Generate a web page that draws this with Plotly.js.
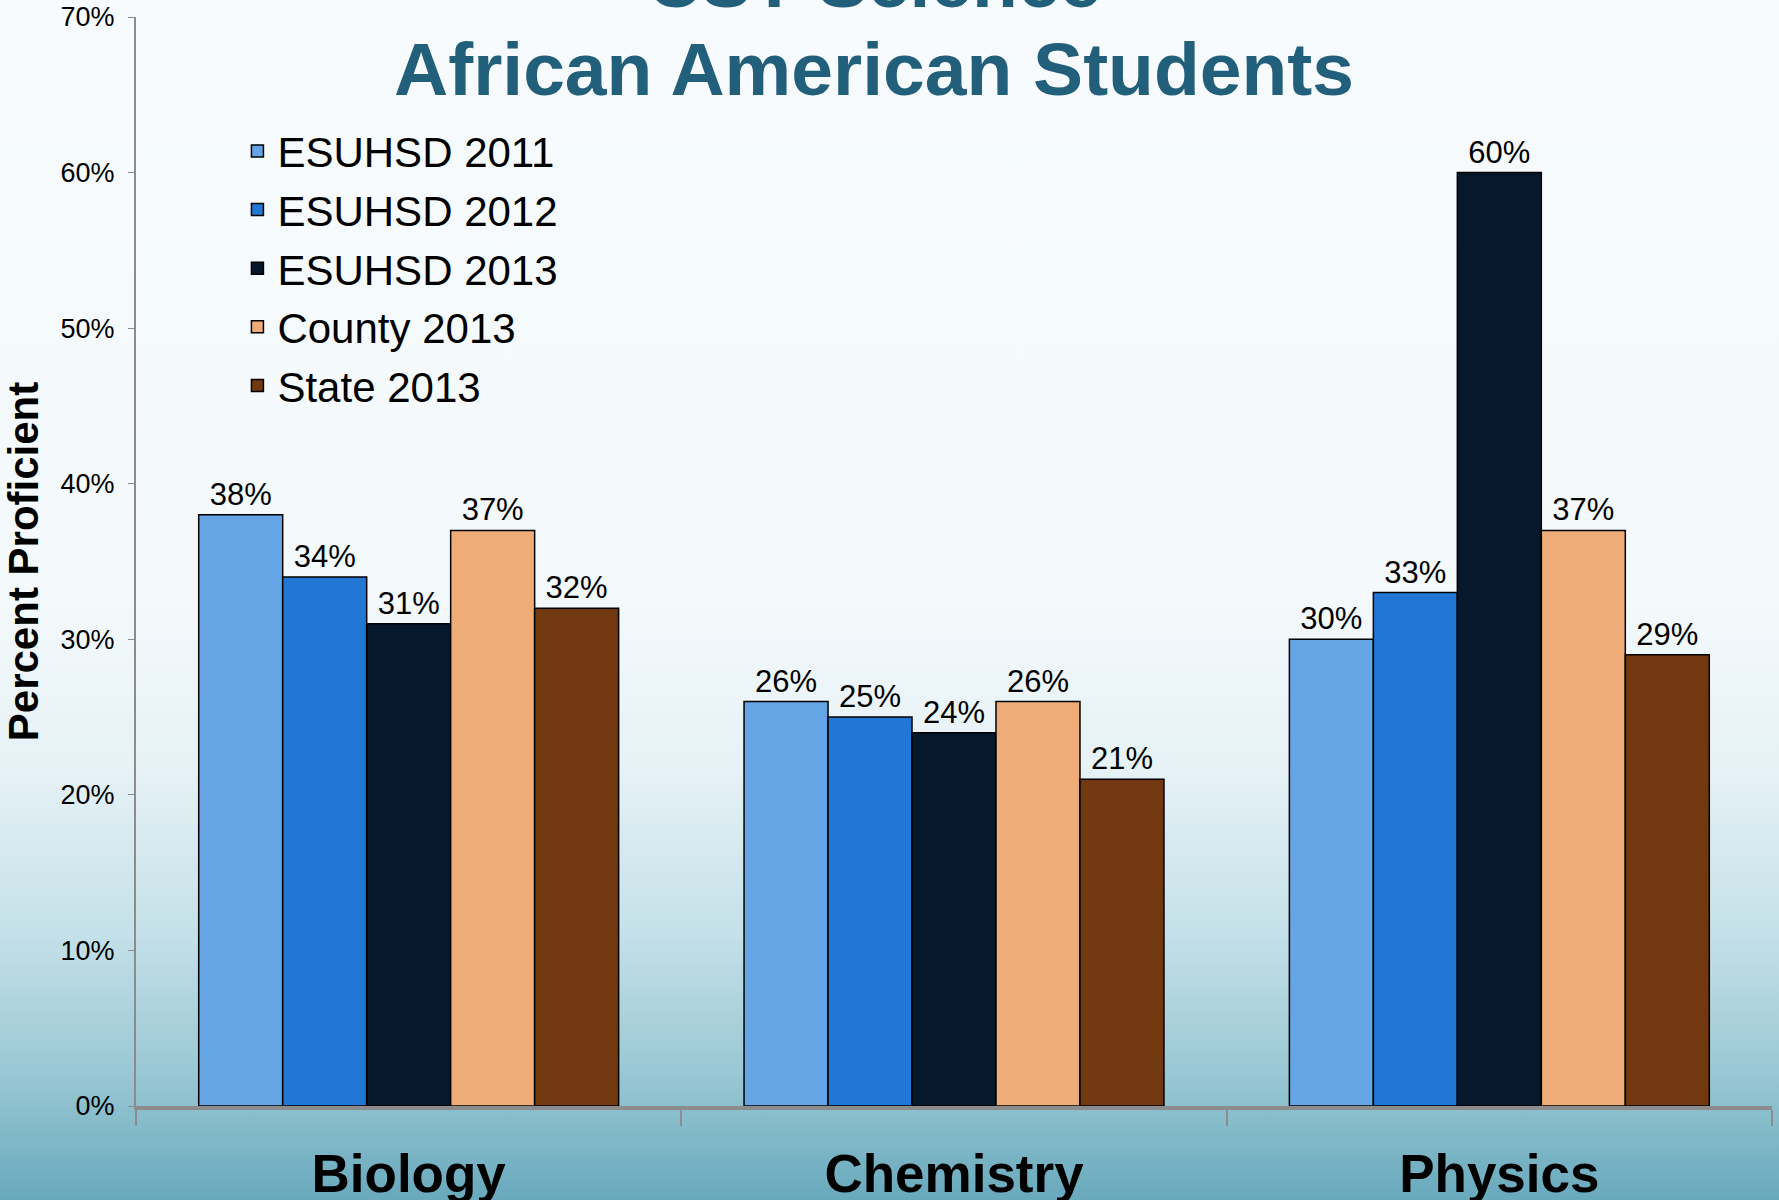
<!DOCTYPE html>
<html>
<head>
<meta charset="utf-8">
<script src="https://cdn.plot.ly/plotly-3.0.1.min.js"></script>
<style>
html,body{margin:0;padding:0;width:1779px;height:1200px;overflow:hidden;
background:linear-gradient(to bottom,#f7fbfd 0%,#f4f9fb 50%,#e6f2f6 64%,#c4e0e8 78%,#97c6d3 90%,#68a9bc 100%);}
#chart{width:1779px;height:1200px;}
</style>
</head>
<body>
<div id="chart"></div>
<script>
const categories = ["Biology", "Chemistry", "Physics"];
const seriesNames = ["ESUHSD 2011", "ESUHSD 2012", "ESUHSD 2013", "County 2013", "State 2013"];
const esuhsd2011 = [0.38, 0.26, 0.30];
const esuhsd2012 = [0.34, 0.25, 0.33];
const esuhsd2013 = [0.31, 0.24, 0.60];
const county2013 = [0.37, 0.26, 0.37];
const state2013 = [0.32, 0.21, 0.29];
const seriesColors = ["#65a5e6", "#2277d4", "#07182d", "#eeac79", "#72380f"];
const titleLines = ["CST Science", "African American Students"];
const yTitle = "Percent Proficient";

const allSeries = [esuhsd2011, esuhsd2012, esuhsd2013, county2013, state2013];
const traces = allSeries.map((vals, i) => ({
  type: "bar",
  name: seriesNames[i],
  x: categories,
  y: vals,
  legendgroup: "g" + i,
  marker: {color: seriesColors[i], line: {color: "#000000", width: 1.5}},
  text: vals.map(v => Math.round(v * 100) + "%"),
  textposition: "outside",
  cliponaxis: false,
  textfont: {family: "Liberation Sans, Arial, sans-serif", size: 31, color: "#000000"}
}));

const layout = {
  width: 1779, height: 1200,
  paper_bgcolor: "rgba(0,0,0,0)",
  plot_bgcolor: "rgba(0,0,0,0)",
  margin: {l: 136, r: 7, t: 17, b: 94},
  barmode: "group",
  bargap: 0.23,
  bargroupgap: 0,
  font: {family: "Liberation Sans, Arial, sans-serif", color: "#000000"},
  showlegend: true,
  legend: {
    x: 0.062, y: 0.908, xanchor: "left", yanchor: "top",
    bgcolor: "rgba(0,0,0,0)",
    font: {size: 42, color: "#000000"},
    tracegroupgap: 1
  },
  xaxis: {
    type: "category",
    showline: true, linecolor: "#8c8c8c", linewidth: 4,
    ticks: "outside", tickson: "boundaries", ticklen: 16, tickcolor: "#8c8c8c", tickwidth: 1.5,
    ticklabelstandoff: 18,
    tickfont: {size: 53, color: "#000000", family: "Liberation Sans, Arial, sans-serif", weight: "bold"},
    showgrid: false, zeroline: false
  },
  yaxis: {
    range: [0, 0.7], dtick: 0.1, tickformat: ".0%",
    showline: true, linecolor: "#8c8c8c", linewidth: 2,
    ticks: "outside", ticklen: 6, tickcolor: "#8c8c8c",
    ticklabelstandoff: 8,
    tickfont: {size: 27, color: "#000000"},
    showgrid: false, zeroline: false,
    title: {text: yTitle, standoff: 16, font: {size: 42, color: "#000000", weight: "bold"}}
  },
  annotations: [
    {text: titleLines[0], xref: "paper", yref: "paper", x: 0.451, y: 1.033, xanchor: "center", yanchor: "middle",
     showarrow: false, font: {size: 75, color: "#215f7b", weight: "bold"}},
    {text: titleLines[1], xref: "paper", yref: "paper", x: 0.451, y: 0.952, xanchor: "center", yanchor: "middle",
     showarrow: false, font: {size: 75, color: "#215f7b", weight: "bold"}}
  ]
};

Plotly.newPlot("chart", traces, layout, {displayModeBar: false});
</script>
</body>
</html>
